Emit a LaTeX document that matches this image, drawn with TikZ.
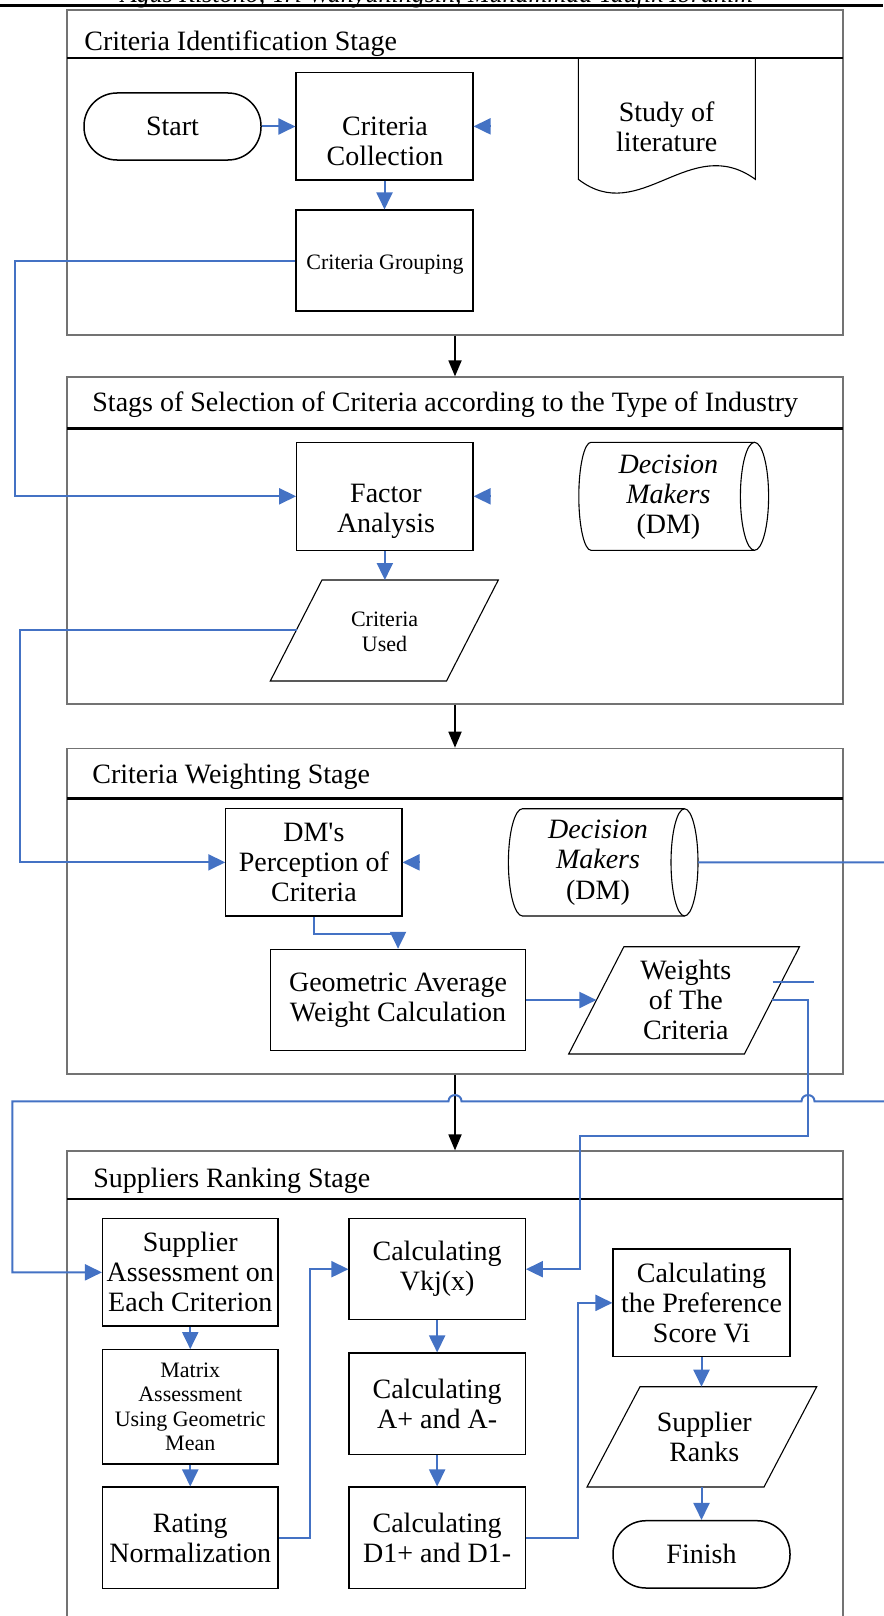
\documentclass[tikz,border=0pt]{standalone}
\usepackage{fontspec}
\setmainfont{Liberation Serif}
\newfontfamily\rawf{Liberation Serif}
\usetikzlibrary{arrows.meta}
\definecolor{lblue}{HTML}{4472C4}
\newcommand{\fbig}{\fontsize{14}{15}\selectfont}
\newcommand{\fsmall}{\fontsize{11}{12.25}\selectfont}
\begin{document}
\begin{tikzpicture}[x=0.5pt,y=-0.5pt,
  bl/.style={draw=lblue, line width=1pt, -{Triangle[length=8.5pt,width=8pt]}},
  bline/.style={draw=lblue, line width=1pt},
  kar/.style={draw=black, line width=0.9pt, -{Triangle[length=8pt,width=6.5pt]}},
  stage/.style={draw=black!55, line width=0.6pt, inner sep=0pt, minimum width=388pt},
  divider/.style={draw=black, line width=1.3pt},
  shp/.style={draw=black, line width=0.55pt},
  box/.style={draw=black, line width=0.55pt, inner sep=0pt, align=center, font=\fbig},
  txt/.style={inner sep=0pt, align=center, font=\fbig},
  ttl/.style={inner sep=0pt, anchor=west, font=\fbig}]
\useasboundingbox (0,0) rectangle (883,1616);

% page header
\node[anchor=base, inner sep=0pt, font=\fontsize{13}{15}\selectfont\itshape] (hdr) at (437,3) {Agus Ristono, Tri Wahyuningsih, Muhammad Taufik Ibrahim};
\draw[line width=1.25pt] (0,5.5) -- (883,5.5);

% stage frames
\node[stage, minimum height=162.5pt] (s1) at (455,172.5) {};
\node[stage, minimum height=163.5pt] (s2) at (455,540.5) {};
\node[stage, minimum height=162.85pt] (s3) at (455,911.15) {};
\node[stage, minimum height=244.5pt] (s4) at (455,1395.5) {};
\draw[divider] (67,58) -- (843,58);
\draw[divider] (67,428.3) -- (843,428.3);
\draw[divider] (67,798.3) -- (843,798.3);
\draw[divider] (67,1199) -- (843,1199);
\node[ttl] (t1) at (84,44) {Criteria Identification Stage};
\node[ttl] (t2) at (92,404.5) {Stags of Selection of Criteria according to the Type of Industry};
\node[ttl] (t3) at (92,777) {Criteria Weighting Stage};
\node[ttl] (t4) at (93,1181) {Suppliers Ranking Stage};

% ---- stage 1
\node[box, rounded corners=16.5pt, line width=0.75pt, minimum width=88.5pt, minimum height=33.5pt] (start) at (172.5,126.5) {Start};
\node[box, minimum width=88.5pt, minimum height=53.65pt] (cc) at (384.5,126.35) {};
\node[txt] (cct) at (385,141.7) {Criteria\\Collection};
\node[box, minimum width=88.5pt, minimum height=50.5pt] (cg) at (384.5,260.5) {};
\node[txt, font=\fsmall] (cgt) at (385,264.5) {Criteria Grouping};
\draw[shp] (578.3,59) -- (578.3,179.3) .. controls (640,227) and (690,132) .. (755.3,179.3) -- (755.3,59);
\node[txt] (study) at (666.7,127.2) {Study of\\literature};

% ---- stage 2
\node[box, minimum width=88.15pt, minimum height=54pt] (fa) at (384.85,496.3) {};
\node[txt] (fat) at (386,511.7) {Factor\\Analysis};
\draw[shp] (754.5,442.3) -- (591,442.3) .. controls (584.3,442.3) and (578.8,466.5) .. (578.8,496.3) .. controls (578.8,526.1) and (584.3,550.3) .. (591,550.3) -- (754.5,550.3);
\draw[shp] (754.5,496.3) ellipse [x radius=7.05pt, y radius=27pt];
\node[txt] (dm1) at (668.4,497) {\textit{Decision}\\\textit{Makers}\\(DM)};
\draw[shp] (322,580) -- (498.3,580) -- (446.5,681) -- (270.3,681) -- cycle;
\node[txt, font=\fsmall] (cu) at (384.6,632) {Criteria\\Used};

% ---- stage 3
\node[box, minimum width=88.1pt, minimum height=53.65pt] (per) at (313.9,862.35) {DM{\rawf '}s\\Perception of\\Criteria};
\draw[shp] (684.5,808.7) -- (522.5,808.7) .. controls (514.7,808.7) and (508.4,832.7) .. (508.4,862.35) .. controls (508.4,892) and (514.7,916) .. (522.5,916) -- (684.5,916);
\draw[shp] (684.5,862.35) ellipse [x radius=6.75pt, y radius=26.8pt];
\node[txt] (dm2) at (598,862.7) {\textit{Decision}\\\textit{Makers}\\(DM)};
\node[box, minimum width=127.25pt, minimum height=50.7pt] (geo) at (398.05,1000) {Geometric Average\\Weight Calculation};
\draw[shp] (623.9,946.7) -- (799.5,946.7) -- (744.4,1054) -- (568.7,1054) -- cycle;
\node[txt] (wt) at (685.8,1000) {Weights\\of The\\Criteria};

% ---- stage 4
\node[box, minimum width=87.75pt, minimum height=53.65pt] (sa) at (190.25,1272.35) {Supplier\\Assessment on\\Each Criterion};
\node[box, font=\fsmall, minimum width=87.75pt, minimum height=57.15pt] (mx) at (190.25,1406.85) {Matrix\\Assessment\\Using Geometric\\Mean};
\node[box, minimum width=87.75pt, minimum height=50.85pt] (rn) at (190.25,1537.85) {Rating\\Normalization};
\node[box, minimum width=88.15pt, minimum height=50.5pt] (vk) at (437.15,1269.2) {Calculating\\Vkj(x)};
\node[box, minimum width=88.15pt, minimum height=50.65pt] (ap) at (437.15,1403.65) {Calculating\\A+ and A-};
\node[box, minimum width=88.15pt, minimum height=50.85pt] (d1) at (437.15,1537.85) {Calculating\\D1+ and D1-};
\node[box, minimum width=88.5pt, minimum height=53.85pt] (pr) at (701.5,1302.85) {Calculating\\the Preference\\Score Vi};
\draw[shp] (640,1386.7) -- (816.7,1386.7) -- (764,1487) -- (587,1487) -- cycle;
\node[txt] (sr) at (704.3,1437.2) {Supplier\\Ranks};
\node[box, rounded corners=16.5pt, line width=0.75pt, minimum width=88.5pt, minimum height=33.65pt] (fin) at (701.5,1554.35) {Finish};

% ---- connector end points on drawn shapes
\coordinate (ccin) at (490,126.35);
\coordinate (fain) at (490,496.3);
\coordinate (cutop) at (384.85,580);
\coordinate (cuw) at (296.6,630);
\coordinate (perin) at (419.5,862.35);
\coordinate (wtw) at (596.4,1000);
\coordinate (wte) at (772.2,1000);
\coordinate (dm2e) at (698.2,862.35);
\coordinate (srtop) at (701.5,1386.7);
\coordinate (srbot) at (701.5,1487);

% ---- black stage arrows
\draw[kar] (s1.south) -- (s2.north);
\draw[kar] (s2.south) -- (s3.north);
\draw[kar] (s3.south) -- (s4.north);

% ---- blue connectors
\draw[bl] (start.east) -- (start.east -| cc.west);
\draw[bl] (ccin) -- (cc.east);
\draw[bl] (cc.south) -- (cg.north);
\draw[bl] (cg.west) -- (15,260.5) -- (15,496.3) -- (fa.west);
\draw[bl] (fain) -- (fa.east);
\draw[bl] (fa.south) -- (cutop);
\draw[bl] (cuw) -- (19.7,630) -- (19.7,862.35) -- (per.west);
\draw[bl] (perin) -- (per.east);
\draw[bl] (per.south) -- (313.9,934.3) -- (398.05,934.3) -- (geo.north);
\draw[bl] (geo.east) -- (wtw);
\draw[bline] (772.5,981.7) -- (813.6,981.7);
\draw[bl] (dm2e) -- (900,862.35) -- (900,1101.3) -- (814.5,1101.3) .. controls (814.5,1093) and (801.5,1093) .. (801.5,1101.3) -- (461.5,1101.3) .. controls (461.5,1093) and (448.5,1093) .. (448.5,1101.3) -- (12.4,1101.3) -- (12.4,1272.35) -- (sa.west);
\draw[bl] (wte) -- (808,1000) -- (808,1135.7) -- (580,1135.7) -- (580,1269.2) -- (vk.east);
\draw[bl] (sa.south) -- (mx.north);
\draw[bl] (mx.south) -- (rn.north);
\draw[bl] (vk.south) -- (ap.north);
\draw[bl] (ap.south) -- (d1.north);
\draw[bl] (rn.east) -- (309.7,1537.85) -- (309.7,1269.2) -- (vk.west);
\draw[bl] (d1.east) -- (578.3,1537.85) -- (578.3,1302.85) -- (pr.west);
\draw[bl] (pr.south) -- (srtop);
\draw[bl] (srbot) -- (fin.north);
\end{tikzpicture}
\end{document}
